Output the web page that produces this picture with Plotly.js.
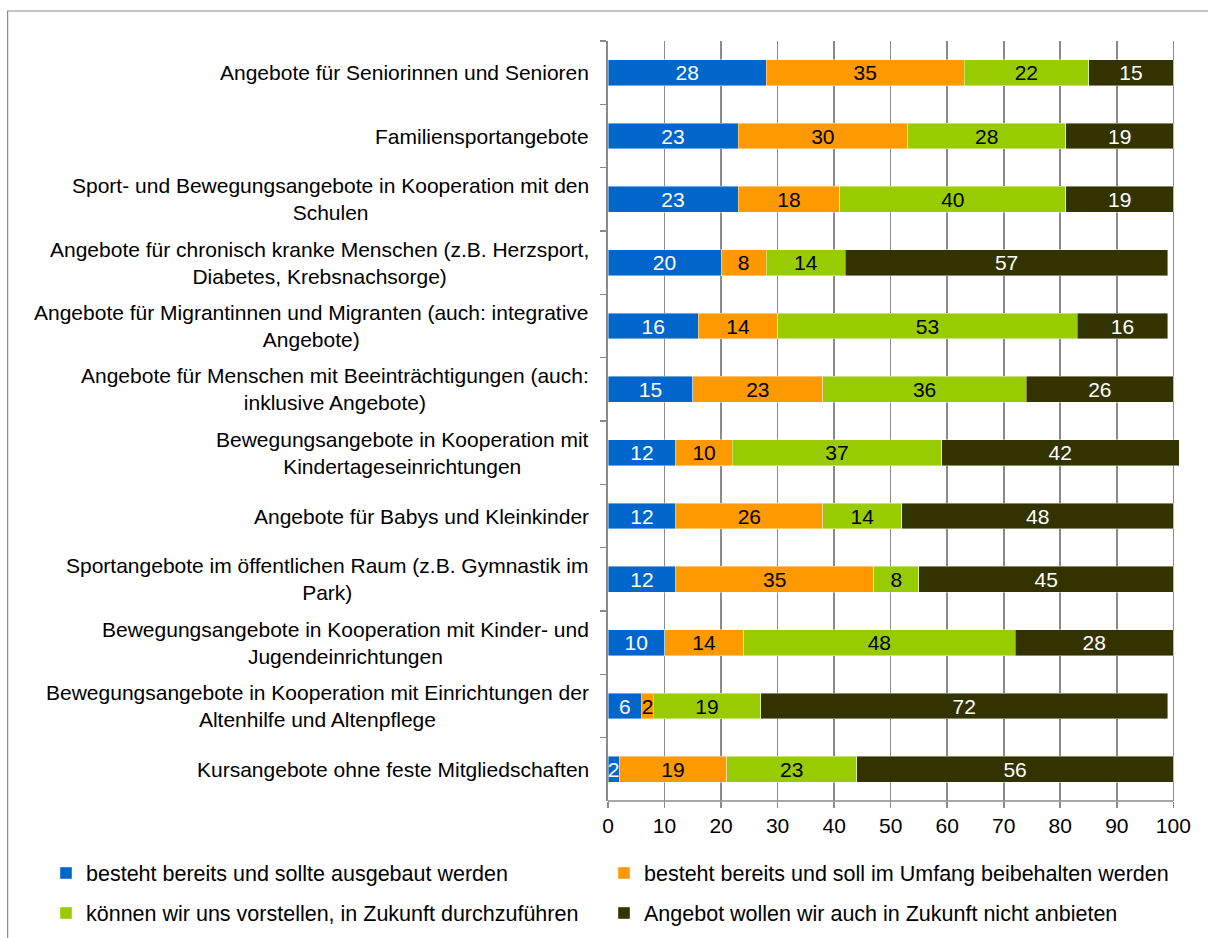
<!DOCTYPE html>
<html><head><meta charset="utf-8">
<script src="https://cdn.plot.ly/plotly-3.0.1.min.js"></script>
<style>html,body{margin:0;padding:0;background:#fff}#chart{width:1208px;height:938px}</style>
</head><body><div id="chart"></div>
<script>
const categories = [
  "Angebote für Seniorinnen und Senioren",
  "Familiensportangebote",
  "Sport- und Bewegungsangebote in Kooperation mit den<br>Schulen",
  "Angebote für chronisch kranke Menschen (z.B. Herzsport,<br>Diabetes, Krebsnachsorge)",
  "Angebote für Migrantinnen und Migranten (auch: integrative<br>Angebote)",
  "Angebote für Menschen mit Beeinträchtigungen (auch:<br>inklusive Angebote)",
  "Bewegungsangebote in Kooperation mit<br>Kindertageseinrichtungen",
  "Angebote für Babys und Kleinkinder",
  "Sportangebote im öffentlichen Raum (z.B. Gymnastik im<br>Park)",
  "Bewegungsangebote in Kooperation mit Kinder- und<br>Jugendeinrichtungen",
  "Bewegungsangebote in Kooperation mit Einrichtungen der<br>Altenhilfe und Altenpflege",
  "Kursangebote ohne feste Mitgliedschaften"
];
const seriesNames = [
  "besteht bereits und sollte ausgebaut werden",
  "besteht bereits und soll im Umfang beibehalten werden",
  "können wir uns vorstellen, in Zukunft durchzuführen",
  "Angebot wollen wir auch in Zukunft nicht anbieten"
];
const ausbauen     = [28, 23, 23, 20, 16, 15, 12, 12, 12, 10,  6,  2];
const beibehalten  = [35, 30, 18,  8, 14, 23, 10, 26, 35, 14,  2, 19];
const vorstellbar  = [22, 28, 40, 14, 53, 36, 37, 14,  8, 48, 19, 23];
const nichtAnbieten= [15, 19, 19, 57, 16, 26, 42, 48, 45, 28, 72, 56];
const xTickValues = [0, 10, 20, 30, 40, 50, 60, 70, 80, 90, 100];

const seriesValues = [ausbauen, beibehalten, vorstellbar, nichtAnbieten];
const colors = ['#0066CC', '#FF9900', '#99CC00', '#333300'];
const textColors = ['#ffffff', '#000000', '#000000', '#ffffff'];
const legendIds = ['legend', 'legend2', 'legend3', 'legend4'];
const FONT = 'Liberation Sans, Arial, sans-serif';

const traces = seriesValues.map((vals, i) => ({
  type: 'bar',
  orientation: 'h',
  name: seriesNames[i],
  x: vals,
  y: categories,
  text: vals.map(String),
  textposition: 'inside',
  insidetextanchor: 'middle',
  textangle: 0,
  cliponaxis: false,
  textfont: {family: FONT, size: 21, color: textColors[i]},
  marker: {color: colors[i], line: {color: 'rgba(255,255,255,0.7)', width: 0.6}},
  legend: legendIds[i],
  hoverinfo: 'x+y+name'
}));

const legendPos = [
  {x: 46, y: 873}, {x: 604, y: 873},
  {x: 46, y: 913}, {x: 604, y: 913}
];
function legendCfg(p) {
  return {
    xref: 'container', yref: 'container',
    x: p.x / 1208, y: (938 - p.y) / 938,
    xanchor: 'left', yanchor: 'middle',
    orientation: 'h',
    bgcolor: 'rgba(0,0,0,0)',
    font: {family: FONT, size: 21.5, color: '#000'}
  };
}

const annotations = categories.map(c => ({
  xref: 'paper', x: 0, xanchor: 'right', xshift: -17,
  yref: 'y', y: c, yanchor: 'middle',
  text: c, showarrow: false, align: 'center',
  font: {family: FONT, size: 21, color: '#000'}
}));

// x range slightly beyond 100 so a sum of 101 stays inside; 100 stays at the same pixel
const plotW = 565 * 1.01;
const layout = {
  width: 1208, height: 938,
  margin: {l: 608, r: 1208 - 608 - plotW, t: 41, b: 137},
  paper_bgcolor: '#fff', plot_bgcolor: '#fff',
  barmode: 'stack',
  bargap: 0.59,
  showlegend: true,
  font: {family: FONT, size: 21, color: '#000'},
  xaxis: {
    range: [0, 101],
    tickvals: xTickValues,
    ticktext: xTickValues.map(String),
    showgrid: true, gridcolor: '#8a8a8a', gridwidth: 1.6,
    showline: false,
    ticks: 'outside', ticklen: 6, tickcolor: '#8a8a8a', tickwidth: 1.6,
    zeroline: false, fixedrange: true,
    tickfont: {family: FONT, size: 21, color: '#000'}
  },
  yaxis: {
    type: 'category',
    autorange: 'reversed',
    showticklabels: false,
    showgrid: false, zeroline: false,
    showline: true, linecolor: '#8a8a8a', linewidth: 1.6,
    ticks: 'outside', tickson: 'boundaries', ticklen: 6,
    tickcolor: '#8a8a8a', tickwidth: 1.6, fixedrange: true
  },
  annotations: annotations,
  shapes: [{
    type: 'rect', xref: 'paper', yref: 'paper',
    x0: (8 - 608) / plotW, x1: (1215 - 608) / plotW,
    y0: (801 - 945) / 760, y1: 1 + (41 - 11) / 760,
    line: {color: '#8a8a8a', width: 1.2}, fillcolor: 'rgba(0,0,0,0)', layer: 'below'
  }, {
    type: 'line', xref: 'x', yref: 'paper',
    x0: 0, x1: 100, y0: 0, y1: 0,
    line: {color: '#8a8a8a', width: 1.6}, layer: 'above'
  }],
  uniformtext: {mode: 'show', minsize: 21},
  legend: legendCfg(legendPos[0]),
  legend2: legendCfg(legendPos[1]),
  legend3: legendCfg(legendPos[2]),
  legend4: legendCfg(legendPos[3])
};

Plotly.newPlot('chart', traces, layout, {displayModeBar: false, staticPlot: true});
</script>
</body></html>
